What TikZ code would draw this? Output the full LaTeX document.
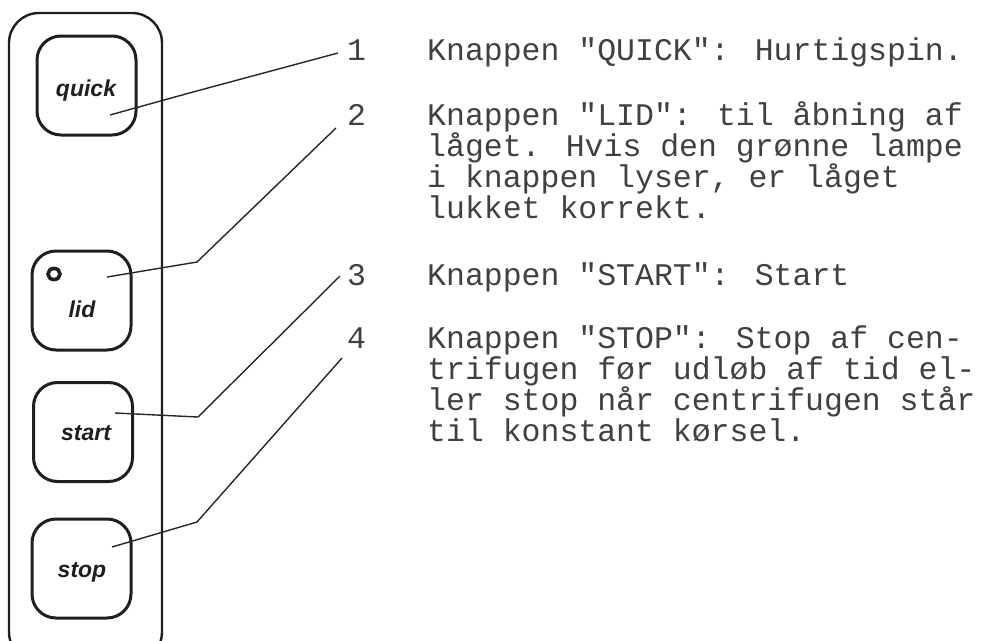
\documentclass[tikz,border=0pt]{standalone}
\usepackage{fontspec}
\setmainfont{Liberation Mono}[Ligatures=TeXOff]
\newfontfamily\btnfont{Liberation Sans}
\begin{document}
\begin{tikzpicture}[x=1pt,y=-1pt,
  frame/.style={draw=black!88,line width=2.4pt,rounded corners=30pt},
  btn/.style={draw=black!88,line width=3pt,rounded corners=24pt,minimum width=99pt,minimum height=99pt,inner sep=0pt},
  lbl/.style={anchor=base,inner sep=0pt,text=black!88,font=\btnfont\bfseries\itshape\fontsize{23}{23}\selectfont},
  txt/.style={anchor=base west,inner sep=0pt,text=black!75,font=\fontsize{31.5}{31}\selectfont},
  lead/.style={draw=black!85,line width=1.4pt}]
\path[use as bounding box] (0,0) rectangle (985,640);
\clip (0,0) rectangle (985,640);
% panel
\draw[frame] (9,13) rectangle (162,662);
% buttons
\node[btn] (bq) at (86.5,85.5) {};
\node[btn] (bl) at (81.5,300.5) {};
\node[btn] (bs) at (83,432) {};
\node[btn] (bp) at (81.5,568.5) {};
\node[lbl] (lq) at (86,96) {quick};
\node[lbl] (ll) at (82,317) {lid};
\node[lbl] (ls) at (86,440) {start};
\node[lbl] (lp) at (82,577) {stop};
\draw[draw=black!88,line width=3.6pt] (54,274) ellipse [x radius=6pt,y radius=5.6pt];
% numbers
\node[txt] (n1) at (347,60) {1};
\node[txt] (n2) at (347,125) {2};
\node[txt] (n3) at (347,285) {3};
\node[txt] (n4) at (347,348) {4};
% texts
\node[txt] (t1) at (427,60) {Knappen "QUICK": Hurtigspin.};
\node[txt] (t2a) at (427,125) {Knappen "LID": til åbning af};
\node[txt] (t2b) at (427,156) {låget. Hvis den grønne lampe};
\node[txt] (t2c) at (427,187) {i knappen lyser, er låget};
\node[txt] (t2d) at (427,218) {lukket korrekt.};
\node[txt] (t3) at (427,285) {Knappen "START": Start};
\node[txt] (t4a) at (427,348) {Knappen "STOP": Stop af cen-};
\node[txt] (t4b) at (427,379) {trifugen før udløb af tid el-};
\node[txt] (t4c) at (427,410) {ler stop når centrifugen står};
\node[txt] (t4d) at (427,441) {til konstant kørsel.};
% leader points
\coordinate (p1) at (110,115); \coordinate (k1) at (193,92); \coordinate (e1) at (338,53);
\coordinate (p2) at (107,277); \coordinate (k2) at (197,262); \coordinate (e2) at (336,128);
\coordinate (p3) at (115,413); \coordinate (k3) at (198,417); \coordinate (e3) at (340,276);
\coordinate (p4) at (112,547); \coordinate (k4) at (197,522); \coordinate (e4) at (342,358);
\draw[lead] (p1) -- (k1) -- (e1);
\draw[lead] (p2) -- (k2) -- (e2);
\draw[lead] (p3) -- (k3) -- (e3);
\draw[lead] (p4) -- (k4) -- (e4);
\end{tikzpicture}
\end{document}
